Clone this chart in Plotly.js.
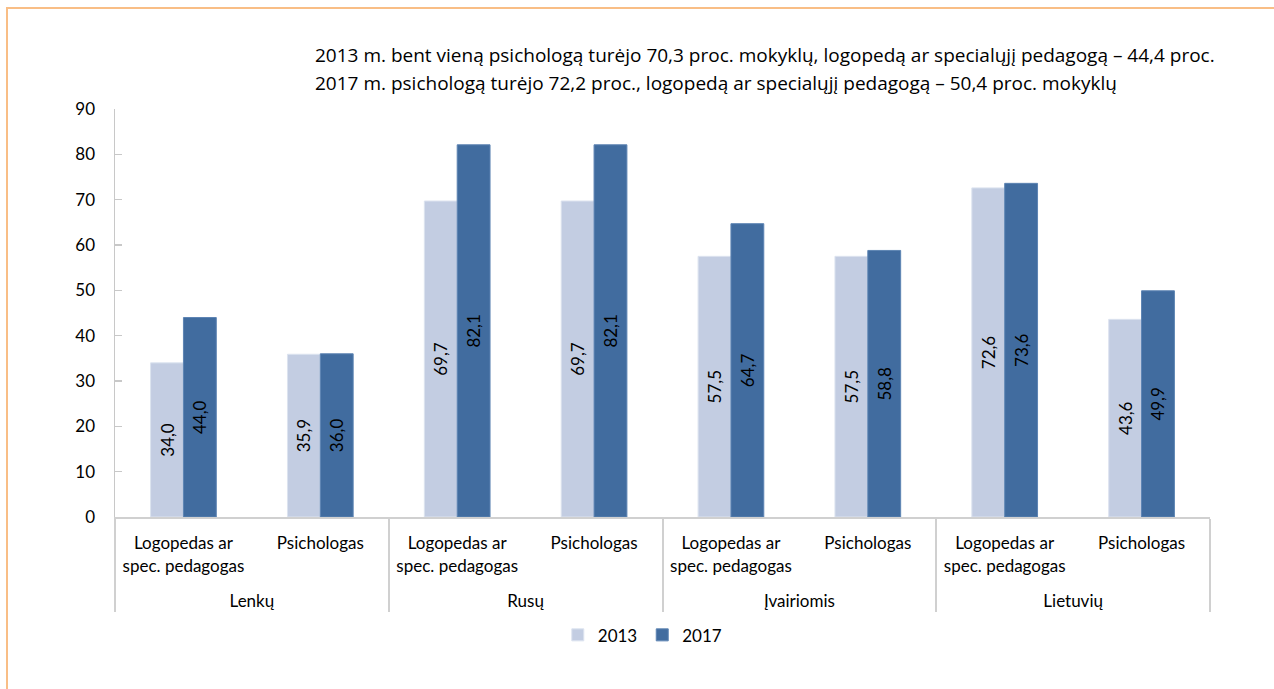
<!DOCTYPE html>
<html>
<head>
<meta charset="utf-8">
<script src="https://cdn.plot.ly/plotly-3.0.1.min.js"></script>
<style>
  html, body { margin: 0; padding: 0; background: #fff; }
  #chart { width: 1274px; height: 689px; position: absolute; left: 0; top: 0; }
  #frame { position: absolute; left: 6px; top: 7px; width: 1290px; height: 700px;
           border-top: 2px solid #F9BE86; border-left: 2px solid #F9BE86; pointer-events: none; }
</style>
</head>
<body>
<div id="chart"></div>
<div id="frame"></div>
<script>
const groups = ['Lenkų', 'Lenkų', 'Rusų', 'Rusų', 'Įvairiomis', 'Įvairiomis', 'Lietuvių', 'Lietuvių'];
const subcats = ['Logopedas ar<br>spec. pedagogas<br>&nbsp;', 'Psichologas',
                 'Logopedas ar<br>spec. pedagogas<br>&nbsp;', 'Psichologas',
                 'Logopedas ar<br>spec. pedagogas<br>&nbsp;', 'Psichologas',
                 'Logopedas ar<br>spec. pedagogas<br>&nbsp;', 'Psichologas'];
const values2013 = [34.0, 35.9, 69.7, 69.7, 57.5, 57.5, 72.6, 43.6];
const values2017 = [44.0, 36.0, 82.1, 82.1, 64.7, 58.8, 73.6, 49.9];
const seriesNames = ['2013', '2017'];
const titleLines = [
  '2013 m. bent vieną psichologą turėjo 70,3 proc. mokyklų, logopedą ar specialųjį pedagogą – 44,4 proc.',
  '2017 m. psichologą turėjo 72,2 proc., logopedą ar specialųjį pedagogą – 50,4 proc. mokyklų'
];

const font = 'Lato, "Open Sans", sans-serif';
const labelStyle = {
  type: 'bar',
  x: [groups, subcats],
  texttemplate: '%{y:.1f}',
  textposition: 'inside',
  insidetextanchor: 'middle',
  textangle: -90,
  constraintext: 'none',
  textfont: { family: font, size: 17, color: '#000' },
  hoverinfo: 'skip'
};

const traces = [
  Object.assign({}, labelStyle, {
    name: seriesNames[0], y: values2013,
    marker: { color: '#C3CDE2', line: { color: '#DCE3EF', width: 1 } }
  }),
  Object.assign({}, labelStyle, {
    name: seriesNames[1], y: values2017,
    marker: { color: '#416C9F', line: { color: '#5D84B3', width: 1 } }
  })
];

const layout = {
  width: 1274, height: 689,
  margin: { l: 115, r: 64, t: 109, b: 172 },
  paper_bgcolor: '#fff', plot_bgcolor: '#fff',
  separators: ',.',
  font: { family: font, size: 17, color: '#000' },
  barmode: 'group', bargap: 0.52, bargroupgap: 0,
  showlegend: true,
  legend: { orientation: 'h', x: 0.482, xanchor: 'center', y: -0.29, yanchor: 'middle',
            font: { family: font, size: 17 }, traceorder: 'normal', itemwidth: 30 },
  xaxis: {
    type: 'multicategory',
    showline: true, linecolor: '#D0D0D0', linewidth: 2,
    showdividers: true, dividercolor: '#D0D0D0', dividerwidth: 2,
    ticks: '', ticklabelstandoff: 10,
    tickfont: { family: font, size: 17, color: '#000' },
    showgrid: false
  },
  yaxis: {
    range: [0, 90], dtick: 10,
    showline: true, linecolor: '#C8C8C8', linewidth: 1.5,
    ticks: 'inside', ticklen: 7, tickcolor: '#C8C8C8', tickwidth: 1.5,
    ticklabelstandoff: 15,
    showgrid: false, zeroline: false,
    tickfont: { family: font, size: 17, color: '#000' }
  },
  annotations: [
    { text: titleLines[0], xref: 'paper', yref: 'paper', x: 0.1808, y: 1.132,
      xanchor: 'left', yanchor: 'middle', showarrow: false,
      font: { family: '"Open Sans", sans-serif', size: 19, color: '#000' } },
    { text: titleLines[1], xref: 'paper', yref: 'paper', x: 0.1808, y: 1.064,
      xanchor: 'left', yanchor: 'middle', showarrow: false,
      font: { family: '"Open Sans", sans-serif', size: 19, color: '#000' } }
  ]
};

Plotly.newPlot('chart', traces, layout, { displayModeBar: false, staticPlot: true });
</script>
</body>
</html>
